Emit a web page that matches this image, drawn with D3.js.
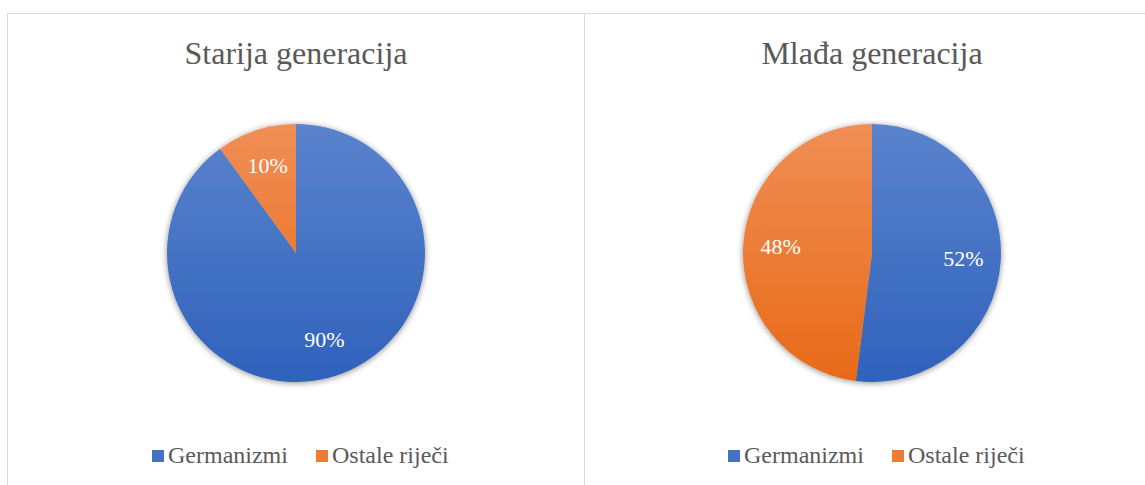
<!DOCTYPE html>
<html>
<head>
<meta charset="utf-8">
<script src="https://cdn.jsdelivr.net/npm/d3@7"></script>
<style>
  body { margin: 0; background: #fff; }
  #chart { position: relative; width: 1145px; height: 485px; }
  svg { display: block; position: absolute; left: 0; top: 0; }
  .lbl {
    position: absolute;
    white-space: nowrap;
    font-family: "Liberation Serif", "Times New Roman", Tinos, "Noto Serif", "DejaVu Serif", serif;
    line-height: 1;
  }
</style>
</head>
<body>
<div id="chart"></div>
<script>
let categories = ["Germanizmi", "Ostale riječi"];
let titles = ["Starija generacija", "Mlađa generacija"];
let starijaValues = [90, 10];
let mladaValues = [52, 48];
let colorsTop = ["#5b83cd", "#f08e55"];
let colorsBottom = ["#2f62bb", "#e86a17"];
let legendColors = ["#4472c4", "#ed7d31"];

let w = 1145;
let h = 485;
let ascent = 0.8375;   // baseline offset for line-height 1 in Liberation Serif

let chart = d3.select("#chart");

let svg = chart
    .append("svg")
    .attr("width", w)
    .attr("height", h);

// text goes in html on top of the svg
function addText(x, baseline, size, color, str, anchor) {
    let d = chart.append("div")
        .attr("class", "lbl")
        .style("left", x + "px")
        .style("top", (baseline - ascent * size) + "px")
        .style("font-size", size + "px")
        .style("color", color)
        .text(str);
    if (anchor === "middle") d.style("transform", "translateX(-50%)");
    return d;
}

let defs = svg.append("defs");

// soft shadow round the pies
let filter = defs.append("filter")
    .attr("id", "shadow")
    .attr("x", "-20%").attr("y", "-20%")
    .attr("width", "140%").attr("height", "140%");
filter.append("feGaussianBlur").attr("in", "SourceAlpha").attr("stdDeviation", 3);
filter.append("feOffset").attr("dx", 0).attr("dy", 1).attr("result", "blur");
filter.append("feComponentTransfer").append("feFuncA").attr("type", "linear").attr("slope", 0.45);
let merge = filter.append("feMerge");
merge.append("feMergeNode");
merge.append("feMergeNode").attr("in", "SourceGraphic");

// frame
svg.append("path")
    .attr("d", "M7.5," + h + " V13.5 H" + w)
    .attr("fill", "none")
    .attr("stroke", "#d9d9d9");
svg.append("line")
    .attr("x1", 584.5).attr("x2", 584.5)
    .attr("y1", 13.5).attr("y2", h)
    .attr("stroke", "#d9d9d9");

let panels = [
    { title: titles[0], values: starijaValues, cx: 296 },
    { title: titles[1], values: mladaValues, cx: 872 }
];

let r = 129;
let cy = 253;

let pie = d3.pie().sort(null).value(d => d);
let arc = d3.arc().innerRadius(0).outerRadius(r);
let labelArc = d3.arc().innerRadius(r * 0.71).outerRadius(r * 0.71);

// vertical gradients, one per colour, in pie coordinates
categories.forEach(function(c, i) {
    let g = defs.append("linearGradient")
        .attr("id", "grad" + i)
        .attr("gradientUnits", "userSpaceOnUse")
        .attr("x1", 0).attr("x2", 0)
        .attr("y1", -r).attr("y2", r);
    g.append("stop").attr("offset", "0%").attr("stop-color", colorsTop[i]);
    g.append("stop").attr("offset", "100%").attr("stop-color", colorsBottom[i]);
});

panels.forEach(function(p) {
    addText(p.cx, 64, 32, "#595959", p.title, "middle");

    let g = svg.append("g")
        .attr("transform", "translate(" + p.cx + "," + cy + ")");

    let arcs = pie(p.values);

    g.append("g")
        .attr("filter", "url(#shadow)")
        .selectAll("path")
        .data(arcs)
        .enter()
        .append("path")
        .attr("d", arc)
        .attr("fill", (d, i) => "url(#grad" + i + ")");

    // percent labels, centred on the slice centroid
    let fs = 22;
    arcs.forEach(function(a) {
        let c = labelArc.centroid(a);
        addText(p.cx + c[0], cy + c[1] + 0.338 * fs, fs, "#fff", a.data + "%", "middle");
    });

    // legend
    let lx = p.cx - 144;
    let ly = 463;
    categories.forEach(function(c, i) {
        svg.append("rect")
            .attr("x", lx).attr("y", ly - 13)
            .attr("width", 12).attr("height", 12)
            .attr("fill", legendColors[i]);
        let t = addText(lx + 16, ly, 24, "#595959", c);
        lx += 16 + t.node().offsetWidth + 28;
    });
});
</script>
</body>
</html>
